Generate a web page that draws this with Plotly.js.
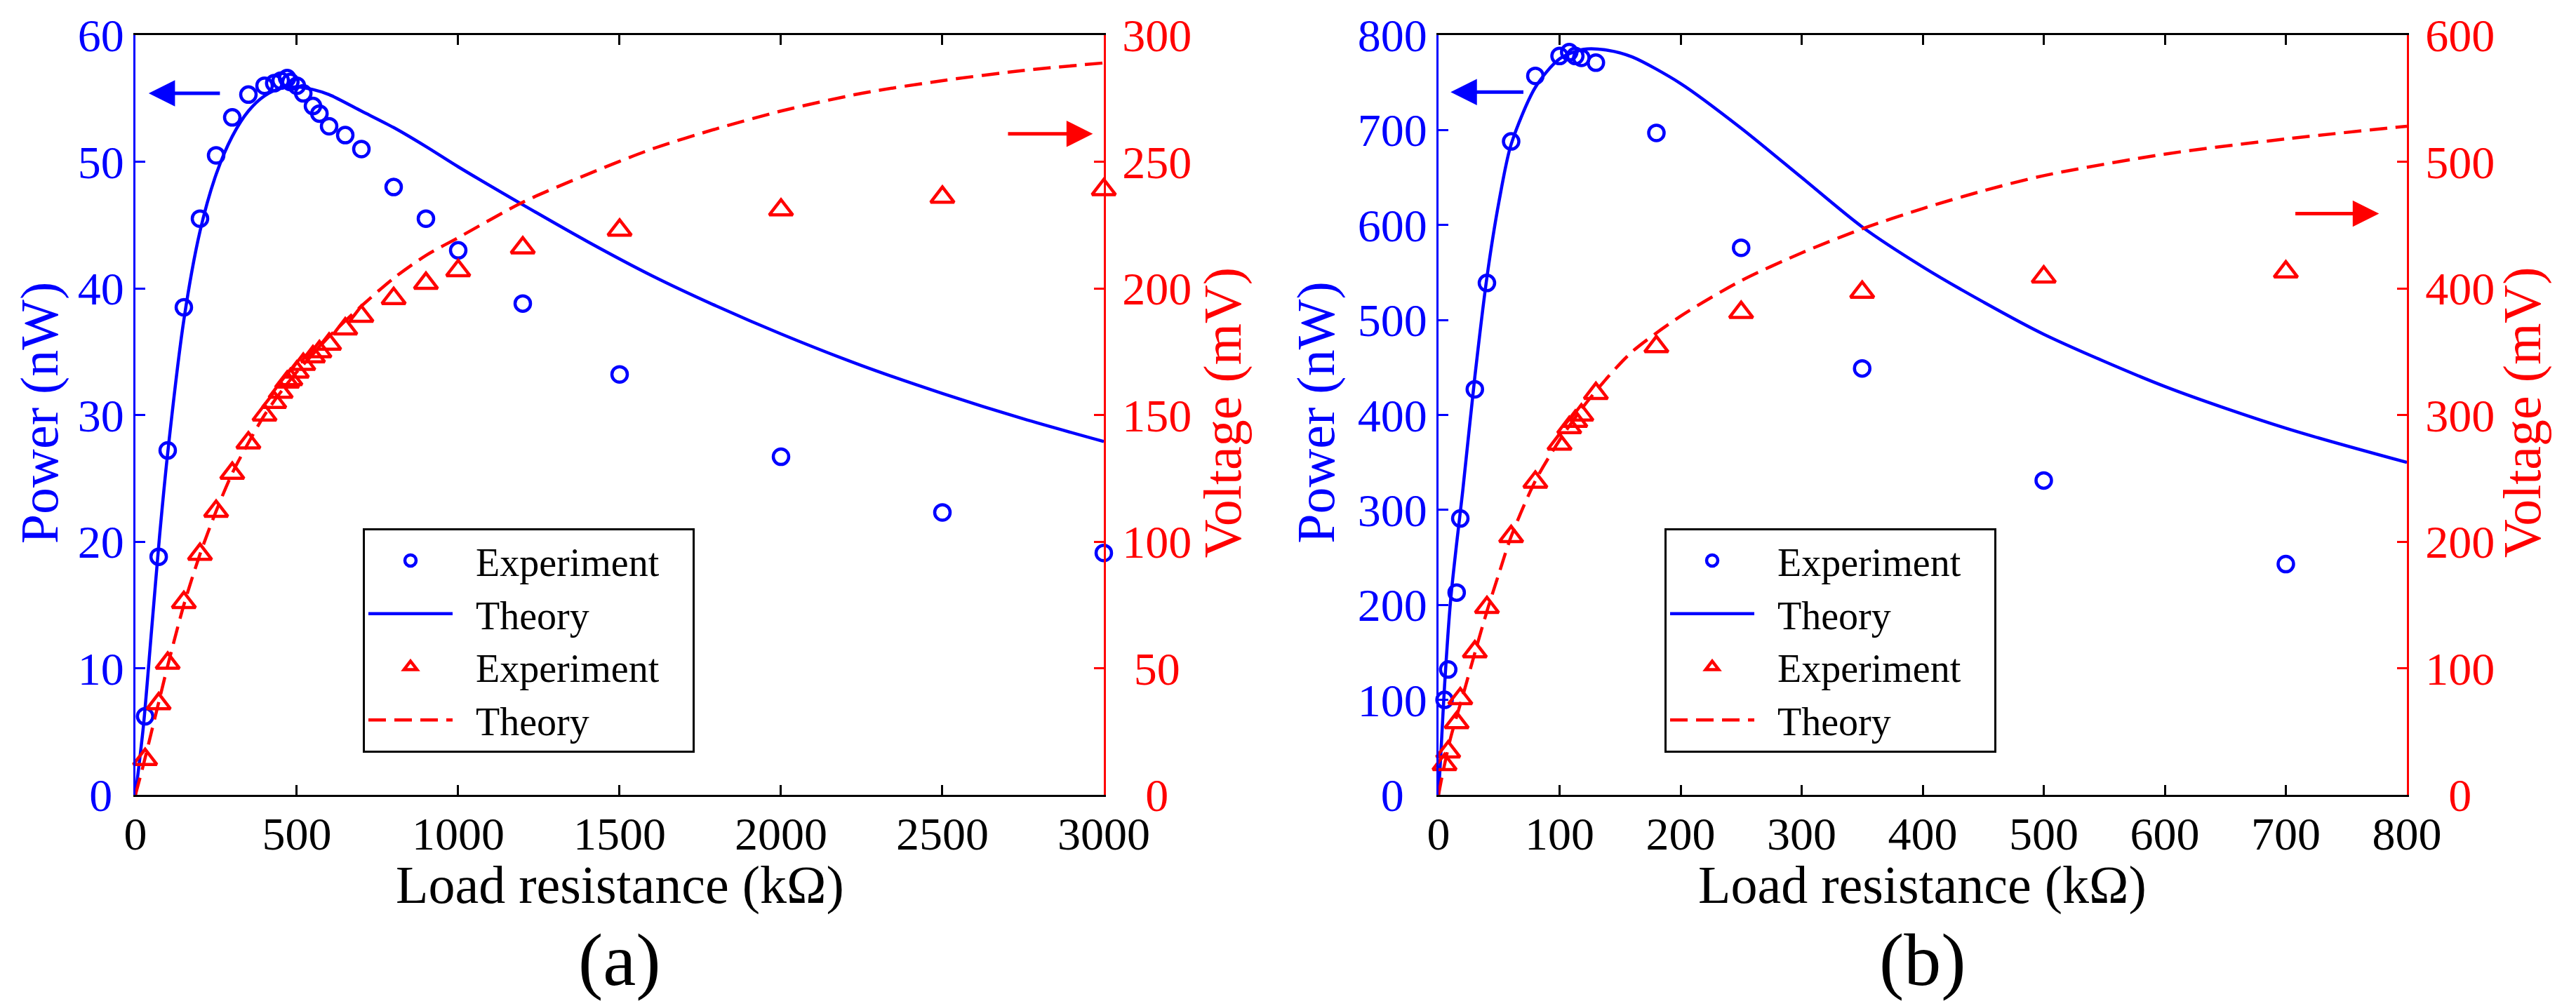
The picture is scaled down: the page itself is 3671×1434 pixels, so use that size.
<!DOCTYPE html>
<html><head><meta charset="utf-8">
<script src="https://cdn.plot.ly/plotly-3.0.1.min.js"></script>
<style>
html,body{margin:0;padding:0;background:#fff}
#chart{width:3671px;height:1434px}
#chart svg text{font-family:'Liberation Serif','Times New Roman',serif !important;}
</style>
</head><body><div id="chart"></div>
<script>
// ---------- (a) data ----------
const resA_exp = [30, 72, 100, 150, 200, 250, 300, 350, 400, 430, 450, 470, 480, 500, 520, 550, 570, 600, 650, 700, 800, 900, 1000, 1200, 1500, 2000, 2500, 3000];
const powA_exp = [6.2, 18.8, 27.2, 38.5, 45.5, 50.5, 53.5, 55.3, 56.0, 56.2, 56.4, 56.6, 56.3, 56.0, 55.4, 54.4, 53.8, 52.8, 52.1, 51.0, 48.0, 45.5, 43.0, 38.8, 33.2, 26.7, 22.3, 19.1];
const voltA_exp = [14, 36, 52, 76, 95, 112, 127, 139, 150, 155, 159, 163, 164, 167, 170, 173, 175, 178, 184, 189, 196, 202, 207, 216, 223, 231, 236, 239];
const resA_th = [0, 25, 50, 75, 100, 150, 200, 250, 300, 350, 400, 450, 500, 550, 600, 700, 800, 900, 1000, 1200, 1400, 1600, 1800, 2000, 2250, 2500, 2750, 3000];
const powA_th = [0, 5.5, 13, 20.5, 27, 37.5, 44.5, 49, 52, 54, 55.2, 55.8, 55.9, 55.7, 55.3, 54.0, 52.7, 51.2, 49.6, 46.6, 43.7, 41.0, 38.6, 36.4, 33.9, 31.7, 29.7, 27.9];
const voltA_th = [0, 12, 25, 38, 51, 75, 95, 112, 127, 139, 150, 159, 167, 174, 181, 193, 204, 213, 220, 234, 245, 255, 263, 270, 277, 282, 286, 289];

// ---------- (b) data ----------
const resB_exp = [5, 8, 15, 18, 30, 40, 60, 80, 100, 108, 113, 118, 130, 180, 250, 350, 500, 700];
const powB_exp = [100, 132, 213, 291, 427, 539, 688, 757, 778, 782, 778, 776, 771, 697, 576, 449, 331, 243];
const voltB_exp = [24, 34, 57, 76, 113, 148, 204, 247, 277, 290, 295, 300, 317, 354, 381, 397, 409, 413];
const resB_th = [0, 2, 5, 10, 15, 20, 30, 40, 50, 60, 80, 100, 120, 140, 160, 200, 250, 300, 350, 400, 450, 500, 600, 700, 800];
const powB_th = [0, 45, 115, 205, 265, 320, 440, 545, 625, 685, 745, 775, 785, 784, 777, 749, 702, 650, 598, 556, 519, 485, 430, 386, 350];
const voltB_th = [0, 10, 24, 45, 62, 78, 112, 145, 175, 204, 248, 280, 307, 330, 350, 378, 406, 428, 447, 463, 477, 489, 506, 518, 528];

// ---------- ticks & texts ----------
const NB = '\u00a0', ZW = '\u200b';
const xTicksA = [0, 500, 1000, 1500, 2000, 2500, 3000];
const xLabelsA = ['0', '500', '1000', '1500', '2000', '2500', '3000'];
const xTicksB = [0, 100, 200, 300, 400, 500, 600, 700, 800];
const xLabelsB = ['0', '100', '200', '300', '400', '500', '600', '700', '800'];
const yTicksA = [0, 10, 20, 30, 40, 50, 60];
const yLabelsA = ['0' + NB + ZW, '10', '20', '30', '40', '50', '60'];
const y2TicksA = [0, 50, 100, 150, 200, 250, 300];
const y2LabelsA = [ZW + NB + NB + '0', ZW + NB + '50', '100', '150', '200', '250', '300'];
const yTicksB = [0, 100, 200, 300, 400, 500, 600, 700, 800];
const yLabelsB = ['0' + NB + NB + ZW, '100', '200', '300', '400', '500', '600', '700', '800'];
const y2TicksB = [0, 100, 200, 300, 400, 500, 600];
const y2LabelsB = [ZW + NB + NB + '0', '100', '200', '300', '400', '500', '600'];
const legendNames = [NB + NB + 'Experiment' + NB + NB + NB + ZW, NB + NB + 'Theory'];
const xTitle = 'Load resistance (kΩ)';
const yTitleLeft = 'Power (nW)';
const yTitleRight = 'Voltage (mV)';
const panelLabels = ['(a)', '(b)'];

const FONT = 'Liberation Serif';
const BLUE = '#0000ff', RED = '#ff0000', BLACK = '#000000';
const TICK_SIZE = 66, TITLE_SIZE = 76, LEG_SIZE = 56;

function expTrace(x, y, xa, ya, leg, color, symbol, size) {
  return {type: 'scatter', mode: 'markers', x: x, y: y, xaxis: xa, yaxis: ya, legend: leg,
    name: legendNames[0], cliponaxis: false,
    marker: {symbol: symbol, size: size, color: color, line: {width: 4.5, color: color}}};
}
function thTrace(x, y, xa, ya, leg, color, dash) {
  return {type: 'scatter', mode: 'lines', x: x, y: y, xaxis: xa, yaxis: ya, legend: leg,
    name: legendNames[1], line: {color: color, width: 4.5, dash: dash, shape: 'spline', smoothing: 0.8}};
}

const data = [
  expTrace(resA_exp, powA_exp, 'x', 'y', 'legend', BLUE, 'circle-open', 22),
  thTrace(resA_th, powA_th, 'x', 'y', 'legend', BLUE, 'solid'),
  expTrace(resA_exp, voltA_exp, 'x', 'y2', 'legend', RED, 'triangle-up-open', 29),
  thTrace(resA_th, voltA_th, 'x', 'y2', 'legend', RED, '25px,12px'),
  expTrace(resB_exp, powB_exp, 'x2', 'y3', 'legend2', BLUE, 'circle-open', 22),
  thTrace(resB_th, powB_th, 'x2', 'y3', 'legend2', BLUE, 'solid'),
  expTrace(resB_exp, voltB_exp, 'x2', 'y4', 'legend2', RED, 'triangle-up-open', 29),
  thTrace(resB_th, voltB_th, 'x2', 'y4', 'legend2', RED, '25px,12px')
];

const Y_DOM = [0.209902, 0.965132];
function xAxis(domain, range, tv, tt, anchor) {
  return {domain: domain, range: range, anchor: anchor, tickvals: tv, ticktext: tt,
    ticks: 'inside', ticklen: 14, tickwidth: 3, tickcolor: BLACK,
    showline: true, linecolor: BLACK, linewidth: 3, mirror: 'ticks',
    showgrid: false, zeroline: false, ticklabelstandoff: -4,
    tickfont: {family: FONT, size: TICK_SIZE, color: BLACK}};
}
function yAxis(range, tv, tt, anchor, color, side, overlay) {
  const ax = {range: range, anchor: anchor, side: side, tickvals: tv, ticktext: tt,
    ticks: 'inside', ticklen: 14, tickwidth: 3, tickcolor: color,
    showline: true, linecolor: color, linewidth: 3, mirror: false,
    showgrid: false, zeroline: false, ticklabelstandoff: side === 'left' ? 0 : 10,
    tickfont: {family: FONT, size: TICK_SIZE, color: color}};
  if (overlay) ax.overlaying = overlay; else ax.domain = Y_DOM;
  return ax;
}
function legendCfg(x) {
  return {x: x, y: 0.4749, xanchor: 'left', yanchor: 'top', bgcolor: '#ffffff',
    bordercolor: BLACK, borderwidth: 3, itemwidth: 120, tracegroupgap: 0,
    font: {family: FONT, size: LEG_SIZE, color: BLACK}};
}
function arrow(xr, yr, x, y, ax, ay, color) {
  return {xref: xr, yref: yr, axref: xr, ayref: yr, x: x, y: y, ax: ax, ay: ay, text: '',
    showarrow: true, arrowhead: 2, arrowsize: 1.5, arrowwidth: 5, arrowcolor: color, standoff: 0};
}
function label(text, x, y, size, color, angle) {
  return {xref: 'paper', yref: 'paper', x: x, y: y, text: text, showarrow: false,
    xanchor: 'center', yanchor: 'middle', textangle: angle || 0,
    font: {family: FONT, size: size, color: color}};
}

const layout = {
  width: 3671, height: 1434, margin: {l: 0, r: 0, t: 0, b: 0},
  paper_bgcolor: '#ffffff', plot_bgcolor: '#ffffff', showlegend: true,
  font: {family: FONT},
  xaxis: xAxis([0.052574, 0.428494], [0, 3000], xTicksA, xLabelsA, 'y'),
  xaxis2: xAxis([0.558431, 0.934350], [0, 800], xTicksB, xLabelsB, 'y3'),
  yaxis: yAxis([0, 60], yTicksA, yLabelsA, 'x', BLUE, 'left', null),
  yaxis2: yAxis([0, 300], y2TicksA, y2LabelsA, 'x', RED, 'right', 'y'),
  yaxis3: yAxis([0, 800], yTicksB, yLabelsB, 'x2', BLUE, 'left', null),
  yaxis4: yAxis([0, 600], y2TicksB, y2LabelsB, 'x2', RED, 'right', 'y3'),
  legend: legendCfg(0.14083),
  legend2: legendCfg(0.64615),
  annotations: [
    arrow('x', 'y', 41, 55.4, 265, 55.4, BLUE),
    arrow('x', 'y2', 2966, 261, 2700, 261, RED),
    arrow('x2', 'y3', 10, 740, 71, 740, BLUE),
    arrow('x2', 'y4', 777, 459, 707, 459, RED),
    label(xTitle, 0.24054, 0.1205, TITLE_SIZE, BLACK),
    label(xTitle, 0.74639, 0.1205, TITLE_SIZE, BLACK),
    label(yTitleLeft, 0.01560, 0.590, TITLE_SIZE, BLUE, -90),
    label(yTitleRight, 0.47490, 0.590, TITLE_SIZE, RED, -90),
    label(yTitleLeft, 0.51100, 0.590, TITLE_SIZE, BLUE, -90),
    label(yTitleRight, 0.97930, 0.590, TITLE_SIZE, RED, -90),
    label(panelLabels[0], 0.24054, 0.046, 106, BLACK),
    label(panelLabels[1], 0.74639, 0.046, 106, BLACK)
  ]
};

Plotly.newPlot('chart', data, layout, {displayModeBar: false, staticPlot: true});
</script></body></html>
